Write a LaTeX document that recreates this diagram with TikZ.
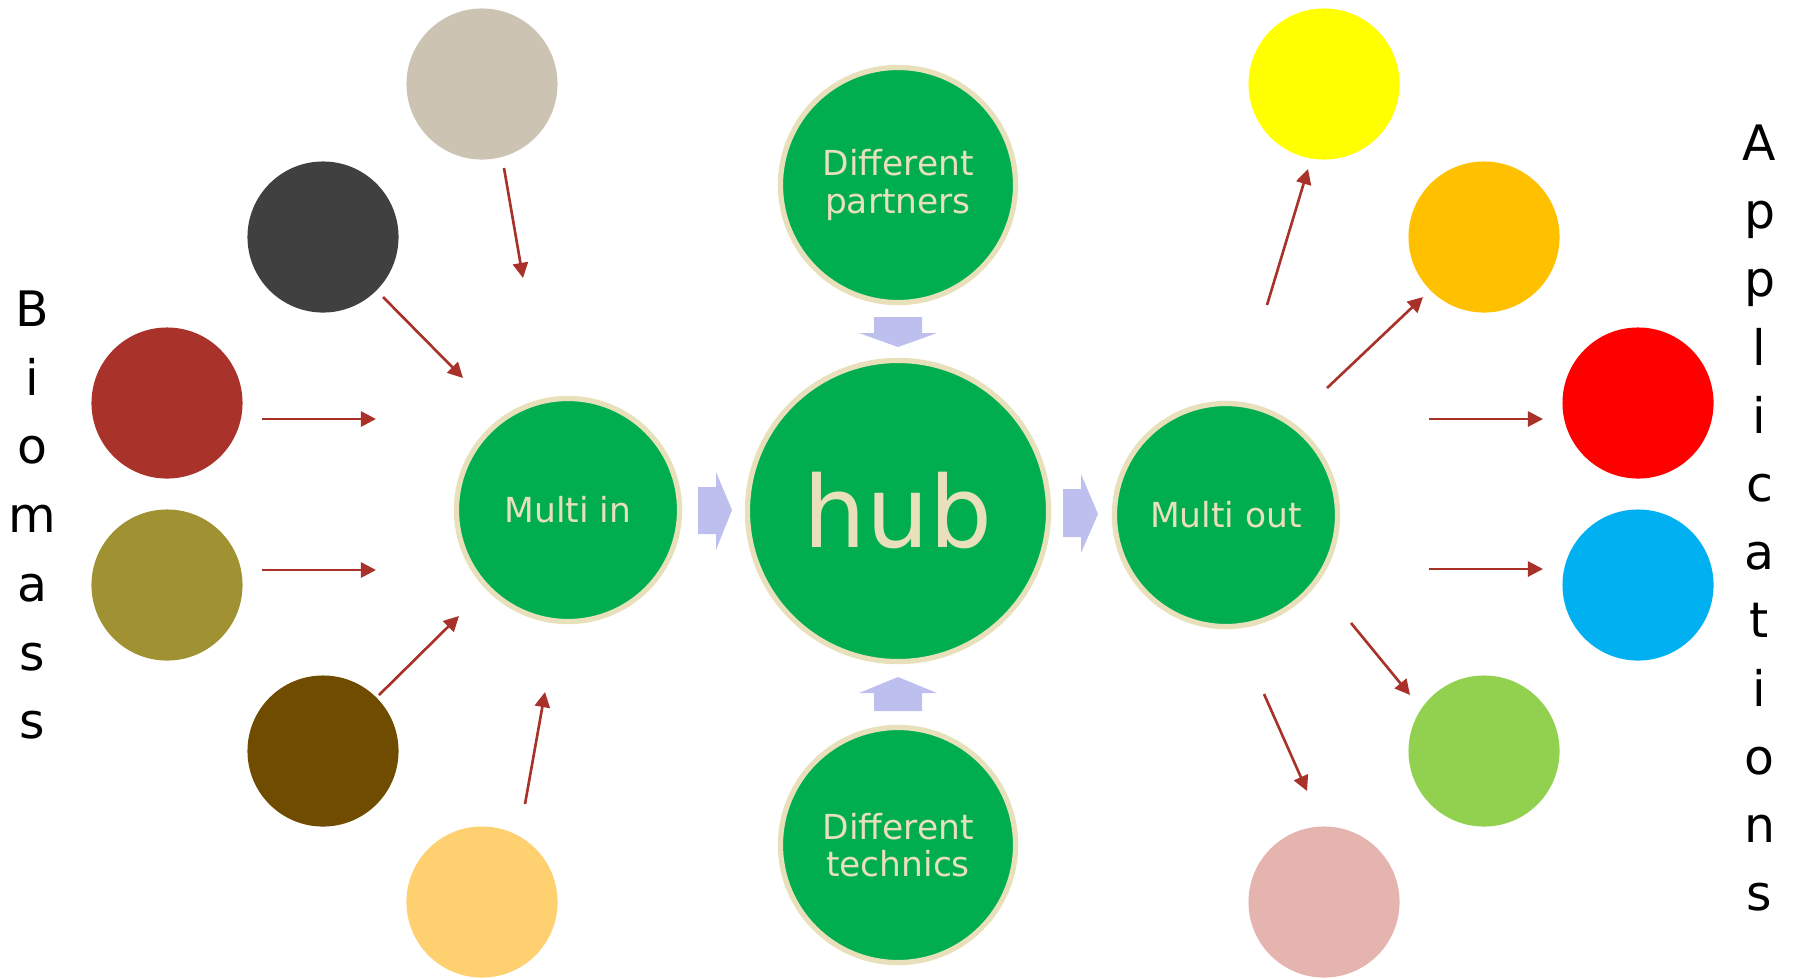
\documentclass[tikz,border=0pt]{standalone}
\usepackage{fontspec}
\setmainfont{DejaVu Sans}
\usetikzlibrary{arrows.meta}
\definecolor{hubgreen}{HTML}{00AE50}
\definecolor{rimbeige}{HTML}{E8E0BA}
\definecolor{linkred}{HTML}{A8322A}
\definecolor{flowblue}{HTML}{BDBFEE}
\definecolor{cBeige}{HTML}{CDC3B3}
\definecolor{cDark}{HTML}{404040}
\definecolor{cRust}{HTML}{A9332A}
\definecolor{cOlive}{HTML}{A09132}
\definecolor{cBrown}{HTML}{704C00}
\definecolor{cSand}{HTML}{FFD070}
\definecolor{cYellow}{HTML}{FFFF00}
\definecolor{cAmber}{HTML}{FFC000}
\definecolor{cRed}{HTML}{FF0000}
\definecolor{cSky}{HTML}{00B0F0}
\definecolor{cLime}{HTML}{92D050}
\definecolor{cPink}{HTML}{E6B4AE}
\tikzset{
  dot/.style={circle,fill=#1,minimum size=1.51cm,inner sep=0pt},
  green/.style={circle,fill=hubgreen,draw=rimbeige,line width=1.5pt,inner sep=0pt,
    text=rimbeige,align=center,font=\fontsize{9.8}{10.6}\selectfont},
  link/.style={->,linkred,line width=0.75pt},
  flow/.style={fill=flowblue},
  letter/.style={anchor=base,font=\fontsize{13.9}{16}\selectfont}
}
\begin{document}
\begin{tikzpicture}[x=0.01cm,y=-0.01cm,>={Triangle[length=4.3pt,width=4.3pt]}]
\useasboundingbox (0,0) rectangle (1795,978);
% biomass side
\node[dot=cBeige] (bm1) at (482,84) {};
\node[dot=cDark] (bm2) at (323,237) {};
\node[dot=cRust] (bm3) at (167,403) {};
\node[dot=cOlive] (bm4) at (167,585) {};
\node[dot=cBrown] (bm5) at (323,751) {};
\node[dot=cSand] (bm6) at (482,902) {};
% application side
\node[dot=cYellow] (ap1) at (1324,84) {};
\node[dot=cAmber] (ap2) at (1484,237) {};
\node[dot=cRed] (ap3) at (1638,403) {};
\node[dot=cSky] (ap4) at (1638,585) {};
\node[dot=cLime] (ap5) at (1484,751) {};
\node[dot=cPink] (ap6) at (1324,902) {};
% green circles
\node[green,minimum size=2.23cm] (min) at (568,510) {Multi in};
\node[green,minimum size=2.23cm] (mout) at (1226,515) {Multi out};
\node[green,minimum size=3.01cm,font=\fontsize{28.2}{30}\selectfont] (hub) at (898,511) {hub};
\node[green,minimum size=2.35cm] (part) at (898,185) {Different\\partners};
\node[green,minimum size=2.35cm] (tech) at (898,845) {Different\\technics};
% block arrows
\fill[flow] (874,317)--(922,317)--(922,333)--(937,333)--(898,347)--(859,333)--(874,333)--cycle;
\fill[flow] (874,711)--(922,711)--(922,693)--(937,693)--(898,677)--(859,693)--(874,693)--cycle;
\fill[flow] (698,487)--(716,487)--(716,472)--(732,510)--(716,550)--(716,534)--(698,534)--cycle;
\fill[flow] (1063,489)--(1081,489)--(1081,474)--(1098,514)--(1081,553)--(1081,537)--(1063,537)--cycle;
% thin arrows
\coordinate (i1s) at (504,168); \coordinate (i1e) at (523,278);
\coordinate (i2s) at (383,297); \coordinate (i2e) at (463,378);
\coordinate (i3s) at (262,419); \coordinate (i3e) at (376,419);
\coordinate (i4s) at (262,570); \coordinate (i4e) at (376,570);
\coordinate (i5s) at (379,695); \coordinate (i5e) at (459,616);
\coordinate (i6s) at (525,804); \coordinate (i6e) at (545,692);
\coordinate (o1s) at (1267,305); \coordinate (o1e) at (1308,169);
\coordinate (o2s) at (1327,388); \coordinate (o2e) at (1423,297);
\coordinate (o3s) at (1429,419); \coordinate (o3e) at (1543,419);
\coordinate (o4s) at (1429,569); \coordinate (o4e) at (1543,569);
\coordinate (o5s) at (1351,623); \coordinate (o5e) at (1410,695);
\coordinate (o6s) at (1264,694); \coordinate (o6e) at (1307,791);
\foreach \n in {i1,i2,i3,i4,i5,i6,o1,o2,o3,o4,o5,o6}
  \draw[link] (\n s) -- (\n e);
% vertical words
\foreach \c [count=\k] in {B,i,o,m,a,s,s}
  \node[letter] (bio\k) at (32,326.5+68.7*\k-68.7) {\c};
\foreach \c [count=\k] in {A,p,p,l,i,c,a,t,i,o,n,s}
  \node[letter] (app\k) at (1759.5,160.5+68.2*\k-68.2) {\c};
\end{tikzpicture}
\end{document}
